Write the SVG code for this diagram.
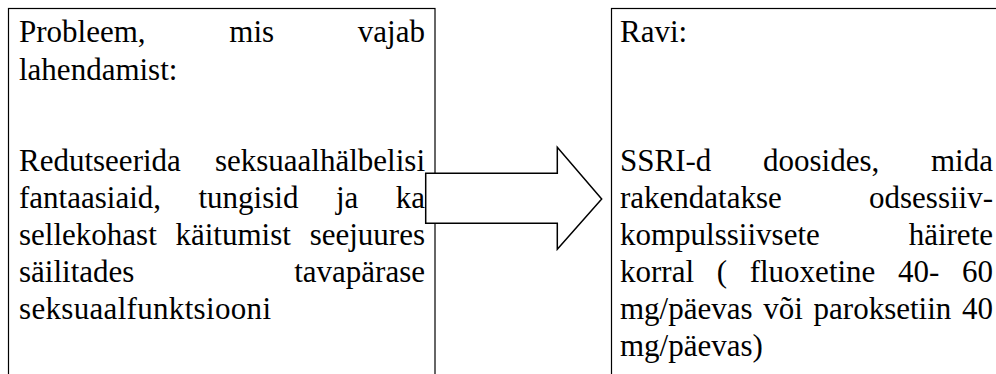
<svg xmlns="http://www.w3.org/2000/svg" width="996" height="374" viewBox="0 0 996 374">
<style>
.box{fill:#fff;stroke:#000;stroke-width:1.2}
.t{font-size:31px;fill:#000}
.e{text-anchor:end}
.arrow{fill:#fff;stroke:#000;stroke-width:1.5;stroke-linejoin:miter}
</style>
<rect width="996" height="374" fill="#fff"/>
<g id="problem" font-family="Liberation Serif, Tinos, DejaVu Serif, serif">
<rect class="box" x="8.5" y="8.5" width="426.5" height="380"/>
<text class="t" x="19" y="42">Probleem,</text>
<text class="t" x="229.3" y="42">mis</text>
<text class="t e" x="425" y="42">vajab</text>
<text class="t" x="19" y="80">lahendamist:</text>
<text class="t" x="19" y="171">Redutseerida</text>
<text class="t e" x="425" y="171">seksuaalhälbelisi</text>
<text class="t" x="19" y="208">fantaasiaid,</text>
<text class="t" x="198.5" y="208">tungisid</text>
<text class="t" x="335.9" y="208">ja</text>
<text class="t e" x="425" y="208">ka</text>
<text class="t" x="19" y="245">sellekohast</text>
<text class="t" x="175.5" y="245">käitumist</text>
<text class="t e" x="425" y="245">seejuures</text>
<text class="t" x="19" y="282">säilitades</text>
<text class="t e" x="425" y="282">tavapärase</text>
<text class="t" x="19" y="319" textLength="252" lengthAdjust="spacing">seksuaalfunktsiooni</text>
</g>
<g id="treatment" font-family="Liberation Serif, Tinos, DejaVu Serif, serif">
<rect class="box" x="611.5" y="8.5" width="400" height="380"/>
<text class="t" x="620" y="42">Ravi:</text>
<text class="t" x="620" y="171">SSRI-d</text>
<text class="t" x="763" y="171">doosides,</text>
<text class="t e" x="993" y="171">mida</text>
<text class="t" x="620" y="208">rakendatakse</text>
<text class="t e" x="993" y="208">odsessiiv-</text>
<text class="t" x="620" y="245">kompulssiivsete</text>
<text class="t e" x="993" y="245">häirete</text>
<text class="t" x="620" y="282">korral</text>
<text class="t" x="716.7" y="282">(</text>
<text class="t" x="749.7" y="282">fluoxetine</text>
<text class="t" x="898.1" y="282">40-</text>
<text class="t e" x="993" y="282">60</text>
<text class="t" x="620" y="319">mg/päevas</text>
<text class="t" x="763.3" y="319">või</text>
<text class="t" x="813.6" y="319">paroksetiin</text>
<text class="t e" x="993" y="319">40</text>
<text class="t" x="620" y="356">mg/päevas)</text>
</g>
<g id="connectors">
<polygon class="arrow" points="425.7,173.3 557.3,173.3 557.3,147.3 601.7,199 557.3,249.3 557.3,223.3 425.7,223.3"/>
</g>
</svg>
